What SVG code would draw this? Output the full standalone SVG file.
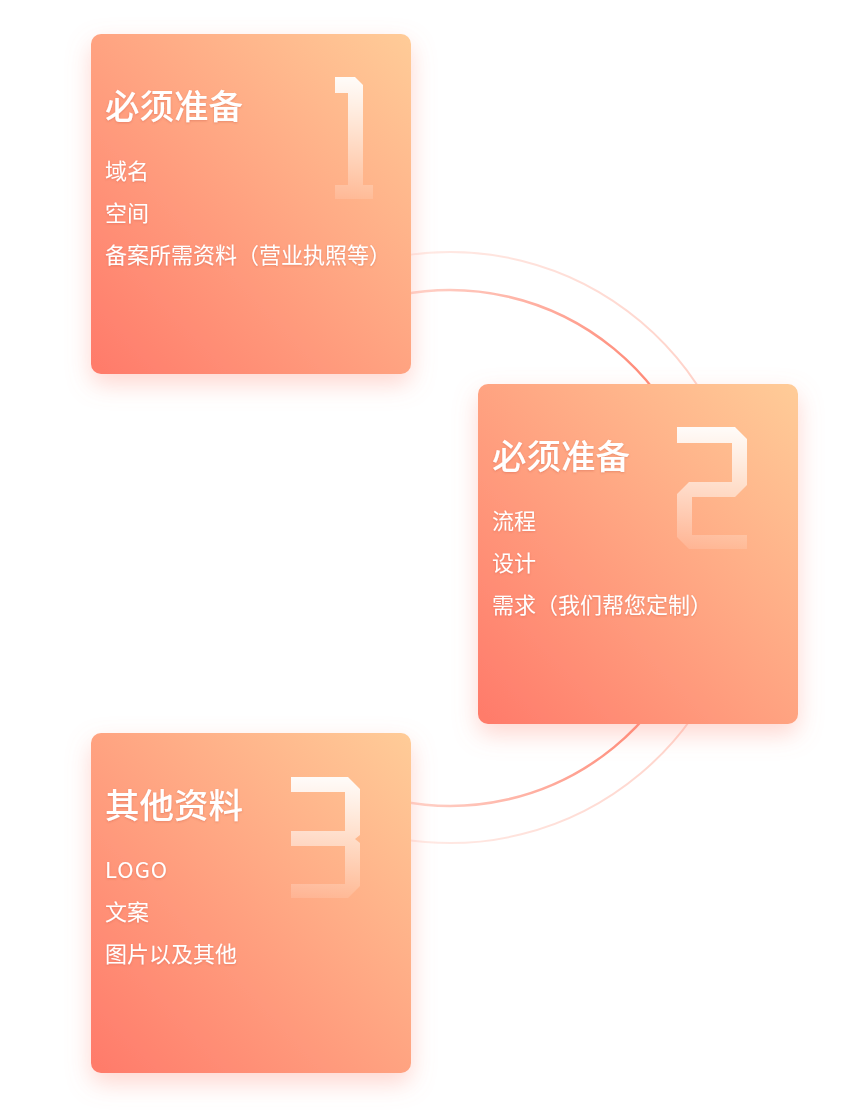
<svg xmlns="http://www.w3.org/2000/svg" width="849" height="1111" viewBox="0 0 849 1111">
  <defs>
    <linearGradient id="boxGrad" x1="1" y1="0" x2="0" y2="1">
      <stop offset="0" stop-color="#FFCC98"/>
      <stop offset="1" stop-color="#FF7A6A"/>
    </linearGradient>
    <linearGradient id="numGrad" x1="0" y1="0" x2="0" y2="1">
      <stop offset="0" stop-color="#FFFFFF" stop-opacity="0.95"/>
      <stop offset="1" stop-color="#FFFFFF" stop-opacity="0.12"/>
    </linearGradient>
    <linearGradient id="arcInner" gradientUnits="userSpaceOnUse" x1="411" y1="0" x2="708" y2="0">
      <stop offset="0" stop-color="#FFC8BC" stop-opacity="0.8"/>
      <stop offset="0.75" stop-color="#FF8E7C"/>
      <stop offset="1" stop-color="#FF7F6D"/>
    </linearGradient>
    <linearGradient id="arcOuter" gradientUnits="userSpaceOnUse" x1="411" y1="0" x2="746" y2="0">
      <stop offset="0" stop-color="#FFDCD4" stop-opacity="0.6"/>
      <stop offset="1" stop-color="#FFC9BE" stop-opacity="0.9"/>
    </linearGradient>
    <filter id="boxShadow" x="-30%" y="-30%" width="160%" height="170%">
      <feDropShadow dx="0" dy="10" stdDeviation="12" flood-color="#FF8A78" flood-opacity="0.35"/>
    </filter>
    <filter id="textShadow" x="-10%" y="-30%" width="120%" height="160%">
      <feDropShadow dx="0" dy="1" stdDeviation="1" flood-color="#C0503C" flood-opacity="0.35"/>
    </filter>
    <style>
      .box { fill: url(#boxGrad); filter: url(#boxShadow); }
      .num { fill: url(#numGrad); }
      .title { font-family: "Noto Sans CJK SC", "Noto Sans", sans-serif; font-size: 34.5px; font-weight: 500; fill: #FFFFFF; filter: url(#textShadow); }
      .item { font-family: "Noto Sans CJK SC", "Noto Sans", sans-serif; font-size: 22px; fill: #FFFFFF; filter: url(#textShadow); }
      .arc { fill: none; }
    </style>
  </defs>

  <g id="connectors">
    <path class="arc" d="M 400 256.3 A 295.5 295.5 0 1 1 400 838.7" stroke="url(#arcOuter)" stroke-width="2"/>
    <path class="arc" d="M 400 294.9 A 258 258 0 1 1 400 801.1" stroke="url(#arcInner)" stroke-width="2.5"/>
  </g>

  <g id="node1">
    <rect class="box" x="91" y="34" width="320" height="340" rx="10"/>
    <path class="num" d="M335,77 L355,77 L363,85 L363,185 L373,185 L373,199 L335,199 L335,185 L348,185 L348,93 L335,93 Z"/>
    <text class="title" x="105" y="119">必须准备</text>
    <text class="item" x="105" y="179">域名</text>
    <text class="item" x="105" y="221">空间</text>
    <text class="item" x="105" y="263">备案所需资料（营业执照等）</text>
  </g>

  <g id="node2">
    <rect class="box" x="478" y="384" width="320" height="340" rx="10"/>
    <path class="num" d="M677,427 L735,427 L747,439 L747,485 L735,497 L692,497 L692,535 L747,535 L747,549 L689,549 L677,537 L677,494 L689,482 L732,482 L732,443 L677,443 Z"/>
    <text class="title" x="492" y="469">必须准备</text>
    <text class="item" x="492" y="529">流程</text>
    <text class="item" x="492" y="571">设计</text>
    <text class="item" x="492" y="613">需求（我们帮您定制）</text>
  </g>

  <g id="node3">
    <rect class="box" x="91" y="733" width="320" height="340" rx="10"/>
    <path class="num" d="M291,777 L348,777 L360,789 L360,835 L355,839 L360,843 L360,886 L348,898 L291,898 L291,884 L345,884 L345,846 L291,846 L291,831 L345,831 L345,792 L291,792 Z"/>
    <text class="title" x="105" y="818">其他资料</text>
    <text class="item" x="105" y="878" letter-spacing="1">LOGO</text>
    <text class="item" x="105" y="920">文案</text>
    <text class="item" x="105" y="962">图片以及其他</text>
  </g>
</svg>
